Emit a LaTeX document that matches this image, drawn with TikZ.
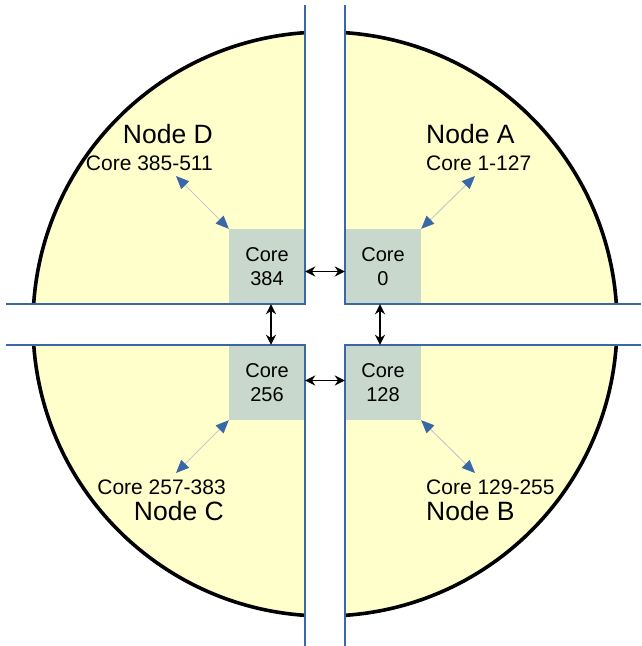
\documentclass[tikz,border=0pt]{standalone}
\usepackage{fontspec}
\setmainfont{Liberation Sans}
\usetikzlibrary{arrows.meta}
\definecolor{quadfill}{HTML}{FFFFCC}
\definecolor{corefill}{HTML}{C8D8CC}
\definecolor{bline}{HTML}{3A67A8}
\definecolor{dline}{HTML}{C8C8C8}
\tikzset{
  corebox/.style={fill=corefill, minimum width=76pt, minimum height=75pt, inner sep=0pt,
    align=center, font=\fontsize{20}{24}\selectfont},
  edgeline/.style={bline, line width=2.2pt},
  linkarrow/.style={black, line width=1.8pt, {Stealth[length=10pt,width=10pt]}-{Stealth[length=10pt,width=10pt]}},
  diagarrow/.style={dline, line width=1pt, {Triangle[length=13pt,width=11pt,color=bline]}-{Triangle[length=13pt,width=11pt,color=bline]}},
  nodelabel/.style={font=\fontsize{26.5}{30}\selectfont, inner sep=0pt},
  rangelabel/.style={font=\fontsize{21}{24}\selectfont, inner sep=0pt},
}
\begin{document}
\begin{tikzpicture}[x=1pt,y=-1pt]
\useasboundingbox (0,0) rectangle (641,646);
% disc
\fill[quadfill, draw=black, line width=3.6pt] (325,324) circle[radius=292];
% gaps
\fill[white] (305,0) rectangle (345,646);
\fill[white] (0,304) rectangle (641,345);
% core boxes
\node[corebox] (c384) at (267,266.5) {Core\\384};
\node[corebox] (c0) at (383,266.5) {Core\\0};
\node[corebox] (c256) at (267,382.5) {Core\\256};
\node[corebox] (c128) at (383,382.5) {Core\\128};
% edge lines (L-shaped borders of each quadrant)
\draw[edgeline] (305,5) -- (305,304) -- (6,304);
\draw[edgeline] (345,5) -- (345,304) -- (641,304);
\draw[edgeline] (305,646) -- (305,345) -- (6,345);
\draw[edgeline] (345,646) -- (345,345) -- (641,345);
% links between cores
\draw[linkarrow] ([yshift=-5pt]c384.east) -- ([yshift=-5pt]c0.west);
\draw[linkarrow] ([yshift=2pt]c256.east) -- ([yshift=2pt]c128.west);
\draw[linkarrow] ([xshift=4pt]c384.south) -- ([xshift=4pt]c256.north);
\draw[linkarrow] ([xshift=-3pt]c0.south) -- ([xshift=-3pt]c128.north);
% diagonal arrows
\coordinate (tA) at (475,176);
\coordinate (tD) at (176,176);
\coordinate (tC) at (176,473);
\coordinate (tB) at (475,473);
\draw[diagarrow] (c0.north east) -- (tA);
\draw[diagarrow] (c384.north west) -- (tD);
\draw[diagarrow] (c256.south west) -- (tC);
\draw[diagarrow] (c128.south east) -- (tB);
% labels
\node[nodelabel, anchor=base east] (lD) at (213,143) {Node D};
\node[rangelabel, anchor=base east] (rD) at (213,170) {Core 385-511};
\node[nodelabel, anchor=base west] (lA) at (426,143) {Node A};
\node[rangelabel, anchor=base west] (rA) at (426,170) {Core 1-127};
\node[rangelabel, anchor=base east] (rC) at (226,494) {Core 257-383};
\node[nodelabel, anchor=base east] (lC) at (224,520) {Node C};
\node[rangelabel, anchor=base west] (rB) at (426,494) {Core 129-255};
\node[nodelabel, anchor=base west] (lB) at (426,520) {Node B};
\end{tikzpicture}
\end{document}
